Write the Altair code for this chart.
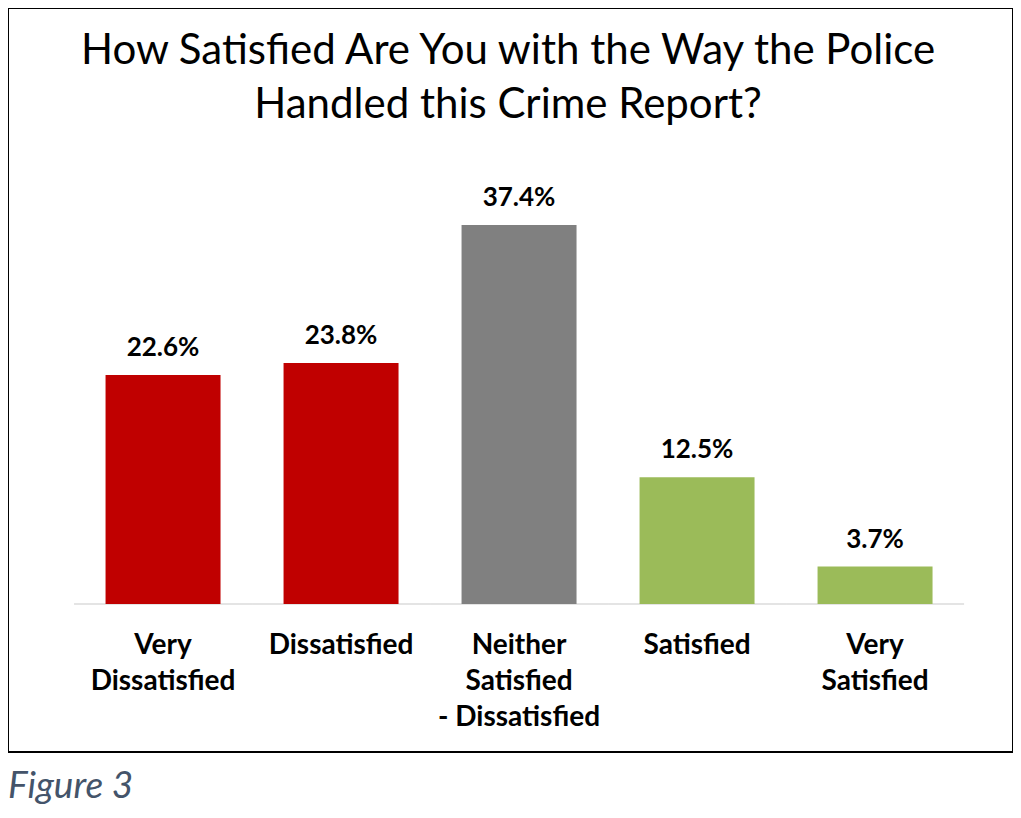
import altair as alt
import pandas as pd

categories = ["Very\nDissatisfied", "Dissatisfied", "Neither\nSatisfied\n- Dissatisfied", "Satisfied", "Very\nSatisfied"]
values = [22.6, 23.8, 37.4, 12.5, 3.7]
value_labels = ["22.6%", "23.8%", "37.4%", "12.5%", "3.7%"]
colors = ["#c00000", "#c00000", "#808080", "#9bbb59", "#9bbb59"]
title_lines = ["How Satisfied Are You with the Way the Police", "Handled this Crime Report?"]
caption = "Figure 3"

df = pd.DataFrame({"cat": categories, "value": values, "label": value_labels, "color": colors})

FONT = "Lato"
xscale = alt.Scale(paddingInner=0.354, paddingOuter=0.5, align=0.548)
yscale = alt.Scale(domain=[-14.61, 58.83], zero=False, nice=False)

x = alt.X("cat:N", sort=categories, scale=xscale, axis=None)

base = alt.Chart(df)

baseline_tick = base.transform_calculate(zero="0").mark_tick(
    color="#d9d9d9", thickness=2, size=178, orient="horizontal"
).encode(
    x=x,
    y=alt.Y("zero:Q", scale=yscale, axis=None),
)

bars = base.mark_bar().encode(
    x=x,
    y=alt.Y("value:Q", scale=yscale, axis=None),
    y2=alt.datum(0),
    color=alt.Color("color:N", scale=None, legend=None),
)

vals = base.mark_text(font=FONT, fontSize=26, fontWeight="bold", baseline="alphabetic", dy=-19, color="black").encode(
    x=x,
    y=alt.Y("value:Q", scale=yscale, axis=None),
    text="label:N",
)

cats = base.mark_text(font=FONT, fontSize=28, fontWeight="bold", baseline="alphabetic", lineBreak="\n", lineHeight=36, color="black").encode(
    x=x,
    y=alt.value(646),
    text="cat:N",
)

title = base.transform_filter(alt.datum.label == "37.4%").mark_text(
    font=FONT, fontSize=42, baseline="alphabetic", align="center", lineBreak="|", lineHeight=54, color="black", dx=-11
).encode(
    x=x, y=alt.value(56), text=alt.value("|".join(title_lines))
)

cap = base.transform_filter(alt.datum.label == "22.6%").mark_text(
    font=FONT, fontSize=37, fontStyle="italic", baseline="alphabetic", align="left", color="#44546a", dx=-155
).encode(
    x=x, y=alt.value(790), text=alt.value(caption)
)

chart = alt.layer(baseline_tick, bars, vals, cats, title, cap).properties(
    width=1005, height=744,
    autosize=alt.AutoSizeParams(type="none"),
    padding={"left": 0, "top": 0, "right": 0, "bottom": 60},
    background="white",
).configure_view(stroke="black", strokeWidth=2)

chart.save("out.html", embed_options={"renderer": "svg", "actions": False})
